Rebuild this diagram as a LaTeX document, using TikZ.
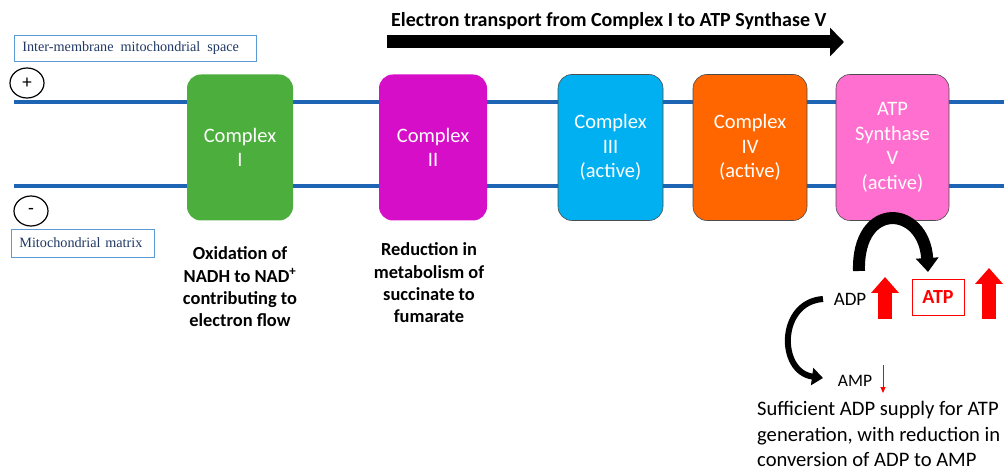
\documentclass[tikz,border=0pt]{standalone}
\usepackage{fontspec}
\setmainfont{Carlito}
\newfontfamily\serifface{Liberation Serif}
\usetikzlibrary{arrows.meta,shapes.geometric}
\definecolor{membrane}{RGB}{30,100,180}
\definecolor{labelborder}{RGB}{91,155,213}
\definecolor{labeltext}{RGB}{31,56,100}
\definecolor{cI}{RGB}{76,174,60}
\definecolor{cII}{RGB}{214,14,200}
\definecolor{cIII}{RGB}{0,176,240}
\definecolor{cIV}{RGB}{255,102,0}
\definecolor{cV}{RGB}{255,111,207}
\begin{document}
\begin{tikzpicture}[x=1pt,y=-1pt,
  cplx/.style={rounded corners=14pt, minimum width=106pt, minimum height=146pt, align=center, text=white, font=\fontsize{20.5}{24.5}\selectfont, inner sep=0pt},
  sidelabel/.style={draw=labelborder, line width=0.8pt, text=labeltext, font=\serifface\fontsize{14.2}{16}\selectfont, inner sep=0pt, anchor=west, align=left},
  signcirc/.style={draw, line width=1.2pt, ellipse, minimum width=34pt, minimum height=30pt, inner sep=0pt, font=\fontsize{19}{19}\selectfont},
  bodytext/.style={align=center, font=\bfseries\fontsize{18.4}{22.3}\selectfont},
  membraneline/.style={membrane, line width=4pt},
  redblock/.style={red, line width=14pt, -{Triangle[length=16pt,width=27pt]}},
  curvearrow/.style={-{Triangle[length=14pt,width=22pt]}},
]
\useasboundingbox (0,0) rectangle (1004,470);
% membranes
\coordinate (mtl) at (14,102); \coordinate (mtr) at (1004,102);
\coordinate (mbl) at (14,186); \coordinate (mbr) at (1004,186);
\draw[membraneline] (mtl) -- (mtr);
\draw[membraneline] (mbl) -- (mbr);
% side labels
\node[sidelabel, text width=226pt, minimum height=26pt, inner xsep=8pt] (ims) at (14,48) {Inter-membrane\, mitochondrial\, space};
\node[sidelabel, text width=127pt, minimum height=28pt, inner xsep=8pt] (mm) at (11,243) {Mitochondrial matrix};
\node[signcirc] (plus) at (27,83) {+};
\node[signcirc] (minus) at (31,211) {-};
% complexes
\node[cplx, fill=cI] (c1) at (240,147.5) {Complex\\I};
\node[cplx, fill=cII, minimum width=108pt] (c2) at (433,147.5) {Complex\\II};
\node[cplx, fill=cIII, draw=black!70, line width=0.6pt, minimum width=105pt] (c3) at (610.5,147.5) {Complex\\III\\(active)};
\node[cplx, fill=cIV, draw=black!70, line width=0.6pt, minimum width=114pt] (c4) at (750,147.5) {Complex\\IV\\(active)};
\node[cplx, fill=cV, draw=black!70, line width=0.6pt, minimum width=113pt] (c5) at (892.5,147.5) {ATP\\Synthase\\V\\(active)};
% title arrow
\node[font=\bfseries\fontsize{20}{22}\selectfont, anchor=west, inner sep=0pt] (title) at (391,21) {Electron transport from Complex I to ATP Synthase V};
\coordinate (ta) at (387,42); \coordinate (tb) at (844,42);
\draw[line width=13pt, -{Triangle[length=14pt,width=28pt]}] (ta) -- (tb);
% descriptions
\node[bodytext] (d1) at (240,287) {Oxidation of\\NADH to NAD\textsuperscript{+}\\contributing to\\electron flow};
\node[bodytext] (d2) at (429,283) {Reduction in\\metabolism of\\succinate to\\fumarate};
% ATP region
\node[font=\fontsize{19}{20}\selectfont, inner sep=0pt] (adp) at (850,299) {ADP};
\node[draw=red, line width=0.8pt, text=red, font=\bfseries\fontsize{20}{20}\selectfont, minimum width=52pt, minimum height=36pt, inner sep=0pt] (atp) at (938,297) {ATP};
\node[font=\fontsize{17.5}{18}\selectfont, inner sep=0pt] (amp) at (855,381) {AMP};
\node[anchor=west, align=left, font=\fontsize{20.6}{25.5}\selectfont, inner sep=0pt] (summary) at (757,434) {Sufficient ADP supply for ATP\\generation, with reduction in\\conversion of ADP to AMP};
% red arrows
\coordinate (r1a) at (885,319); \coordinate (r1b) at (885,277);
\coordinate (r2a) at (989,319); \coordinate (r2b) at (989,268);
\draw[redblock] (r1a) -- (r1b);
\draw[redblock] (r2a) -- (r2b);
\coordinate (r3a) at (883,365); \coordinate (r3b) at (883,393);
\draw[red, line width=1pt, -{Triangle[length=6pt,width=5pt]}] (r3a) -- (r3b);
% black curved arrows
\coordinate (k1a) at (859,271); \coordinate (k1b) at (928,272);
\draw[line width=12pt, curvearrow] (k1a) .. controls (857,200) and (924,205) .. (k1b);
\coordinate (k2a) at (823,299); \coordinate (k2b) at (823,378);
\draw[line width=6pt, -{Triangle[length=11pt,width=17pt]}] (k2a) .. controls (778,302) and (778,372) .. (k2b);
\end{tikzpicture}
\end{document}
